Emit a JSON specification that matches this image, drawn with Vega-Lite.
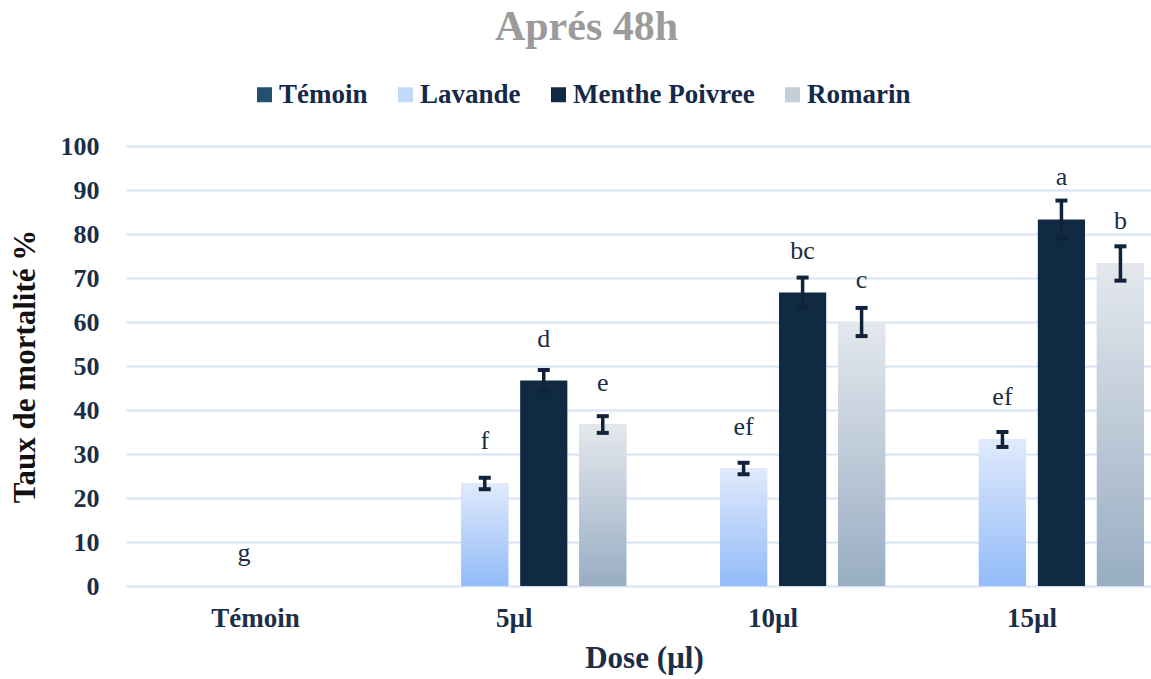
{
  "$schema": "https://vega.github.io/schema/vega-lite/v6.json",
  "autosize": {"type": "none"},
  "padding": {"left": 126, "top": 146, "right": 0, "bottom": 93},
  "width": 1025,
  "height": 440,
  "background": "white",
  "title": {
    "text": "Aprés 48h",
    "font": "Liberation Serif",
    "fontSize": 42,
    "fontWeight": "bold",
    "color": "#9b9b9b",
    "anchor": "middle",
    "dx": -52,
    "offset": 32
  },
  "data": {
    "values": [
      {"dose": "Témoin", "serie": "Témoin", "taux": 0, "err": 0, "lettre": "g"},
      {"dose": "5µl", "serie": "Lavande", "taux": 23.3, "err": 1.3, "lettre": "f"},
      {"dose": "5µl", "serie": "Menthe Poivree", "taux": 46.7, "err": 2.4, "lettre": "d"},
      {"dose": "5µl", "serie": "Romarin", "taux": 36.7, "err": 1.9, "lettre": "e"},
      {"dose": "10µl", "serie": "Lavande", "taux": 26.7, "err": 1.3, "lettre": "ef"},
      {"dose": "10µl", "serie": "Menthe Poivree", "taux": 66.7, "err": 3.4, "lettre": "bc"},
      {"dose": "10µl", "serie": "Romarin", "taux": 60, "err": 3.2, "lettre": "c"},
      {"dose": "15µl", "serie": "Lavande", "taux": 33.3, "err": 1.7, "lettre": "ef"},
      {"dose": "15µl", "serie": "Menthe Poivree", "taux": 83.3, "err": 4.3, "lettre": "a"},
      {"dose": "15µl", "serie": "Romarin", "taux": 73.3, "err": 3.9, "lettre": "b"}
    ]
  },
  "transform": [
    {"calculate": "datum.taux - datum.err", "as": "bas"},
    {"calculate": "datum.taux + datum.err", "as": "haut"}
  ],
  "encoding": {
    "x": {
      "field": "dose",
      "type": "nominal",
      "sort": ["Témoin", "5µl", "10µl", "15µl"],
      "scale": {"paddingInner": 0.08, "paddingOuter": 0.02, "align": 1},
      "axis": {
        "title": "Dose (µl)",
        "labelAngle": 0,
        "domain": false,
        "ticks": false,
        "grid": false,
        "labelFont": "Liberation Serif",
        "labelFontSize": 27,
        "labelFontWeight": "bold",
        "labelColor": "#1b2e47",
        "labelPadding": 19,
        "titleFont": "Liberation Serif",
        "titleFontSize": 31,
        "titleFontWeight": "bold",
        "titleColor": "#1b2e47",
        "titlePadding": 12,
        "titleX": 518
      }
    },
    "xOffset": {
      "field": "serie",
      "type": "nominal",
      "scale": {
        "domain": ["Témoin", "Lavande", "Menthe Poivree", "Romarin"],
        "paddingInner": 0.2,
        "paddingOuter": 0.118
      }
    }
  },
  "layer": [
    {
      "mark": {"type": "bar"},
      "encoding": {
        "y": {
          "field": "taux",
          "type": "quantitative",
          "scale": {"domain": [0, 100], "nice": false},
          "axis": {
            "title": "Taux de mortalité %",
            "values": [0, 10, 20, 30, 40, 50, 60, 70, 80, 90, 100],
            "domain": false,
            "ticks": false,
            "grid": true,
            "gridColor": "#d7e4f5",
            "gridWidth": 2,
            "labelFont": "Liberation Serif",
            "labelFontSize": 26,
            "labelFontWeight": "bold",
            "labelColor": "#1b2e47",
            "labelPadding": 27,
            "titleFont": "Liberation Serif",
            "titleFontSize": 31,
            "titleFontWeight": "bold",
            "titleColor": "#111111",
            "titlePadding": 19
          }
        },
        "color": {
          "field": "serie",
          "type": "nominal",
          "scale": {
            "domain": ["Témoin", "Lavande", "Menthe Poivree", "Romarin"],
            "range": ["#22506e", "#c2d8fb", "#112a43", "#c3ced9"]
          },
          "legend": {
            "title": null,
            "orient": "none",
            "direction": "horizontal",
            "legendX": 125,
            "legendY": -65,
            "symbolType": "square",
            "symbolSize": 225,
            "symbolStrokeWidth": 0,
            "symbolOpacity": 1,
            "labelFont": "Liberation Serif",
            "labelFontSize": 27,
            "labelFontWeight": "bold",
            "labelColor": "#15294a",
            "labelOffset": 1,
            "labelLimit": 400,
            "columnPadding": 24
          }
        }
      }
    },
    {
      "transform": [{"filter": "datum.serie == 'Lavande'"}],
      "mark": {
        "type": "bar",
        "color": {"gradient": "linear", "x1": 0, "y1": 0, "x2": 0, "y2": 1, "stops": [{"offset": 0, "color": "#e0eafc"}, {"offset": 1, "color": "#92bbf8"}]}
      },
      "encoding": {"y": {"field": "taux", "type": "quantitative"}}
    },
    {
      "transform": [{"filter": "datum.serie == 'Romarin'"}],
      "mark": {
        "type": "bar",
        "color": {"gradient": "linear", "x1": 0, "y1": 0, "x2": 0, "y2": 1, "stops": [{"offset": 0, "color": "#e4e8ed"}, {"offset": 1, "color": "#98adc3"}]}
      },
      "encoding": {"y": {"field": "taux", "type": "quantitative"}}
    },
    {
      "transform": [{"filter": "datum.err > 0"}],
      "mark": {"type": "rule", "color": "#10233a", "strokeWidth": 3.5},
      "encoding": {
        "y": {"field": "bas", "type": "quantitative"},
        "y2": {"field": "haut"}
      }
    },
    {
      "transform": [{"filter": "datum.err > 0"}, {"fold": ["bas", "haut"], "as": ["bout", "val"]}],
      "mark": {"type": "tick", "color": "#10233a", "size": 12, "thickness": 4, "opacity": 1},
      "encoding": {
        "y": {"field": "val", "type": "quantitative"}
      }
    },
    {
      "transform": [{"filter": "datum.dose != 'Témoin'"}],
      "mark": {"type": "text", "font": "Liberation Serif", "fontSize": 26, "color": "#1b2d45", "baseline": "alphabetic", "dy": -34},
      "encoding": {
        "y": {"field": "taux", "type": "quantitative"},
        "text": {"field": "lettre"}
      }
    },
    {
      "transform": [{"filter": "datum.dose == 'Témoin'"}],
      "mark": {"type": "text", "font": "Liberation Serif", "fontSize": 26, "color": "#1b2d45", "baseline": "alphabetic", "dy": -25, "dx": 77},
      "encoding": {
        "y": {"field": "taux", "type": "quantitative"},
        "text": {"field": "lettre"}
      }
    }
  ],
  "config": {
    "view": {"stroke": null}
  }
}
